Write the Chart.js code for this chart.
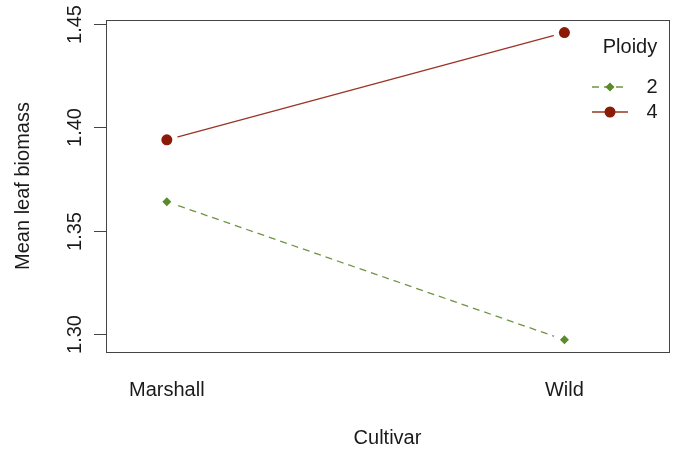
<!DOCTYPE html>
<html>
<head>
<meta charset="utf-8">
<script src="https://cdn.jsdelivr.net/npm/chart.js@4.4.1/dist/chart.umd.min.js"></script>
<style>
  html, body { margin: 0; padding: 0; background: #fff; }
  #wrap { width: 680px; height: 454px; }
</style>
</head>
<body>
<div id="wrap"><canvas id="chart" width="680" height="454"></canvas></div>
<script>
// Data
const categories = ['Marshall', 'Wild'];
const ploidyLevels = ['2', '4'];
const ploidy2 = [1.364, 1.297];
const ploidy4 = [1.394, 1.446];
const yTicks = [1.30, 1.35, 1.40, 1.45];

const FONT = '20px "Liberation Sans", Arial, sans-serif';
const GREEN = '#5b8a2b';
const GREEN_LINE = '#6f9444';
const RED = '#8b1a06';
const RED_LINE = '#9a3424';
const FRAME = '#444';

const pts = arr => arr.map((v, i) => ({ x: i + 1, y: v }));

// Axes, frame and legend drawn on top of the chart area
const rAxes = {
    id: 'rAxes',
    afterDraw(chart) {
        const { ctx, chartArea: a, scales } = chart;
        const x = scales.x, y = scales.y;
        ctx.save();
        ctx.strokeStyle = FRAME;
        ctx.lineWidth = 1;
        ctx.strokeRect(Math.round(a.left) + 0.5, Math.round(a.top) + 0.5,
            Math.round(a.right - a.left), Math.round(a.bottom - a.top));

        ctx.fillStyle = '#1a1a1a';
        ctx.font = FONT;
        ctx.textAlign = 'center';
        ctx.textBaseline = 'middle';

        // y ticks with rotated labels
        yTicks.forEach(t => {
            const py = Math.round(y.getPixelForValue(t)) + 0.5;
            ctx.beginPath();
            ctx.moveTo(a.left - 12, py);
            ctx.lineTo(a.left, py);
            ctx.stroke();
            ctx.save();
            ctx.translate(75, py);
            ctx.rotate(-Math.PI / 2);
            ctx.fillText(t.toFixed(2), 0, 0);
            ctx.restore();
        });

        // y title
        ctx.save();
        ctx.translate(23, (a.top + a.bottom) / 2);
        ctx.rotate(-Math.PI / 2);
        ctx.fillText('Mean leaf biomass', 0, 0);
        ctx.restore();

        // x category labels
        categories.forEach((c, i) => {
            ctx.fillText(c, x.getPixelForValue(i + 1), 390);
        });
        ctx.fillText('Cultivar', (a.left + a.right) / 2, 438);

        // legend
        ctx.fillText('Ploidy', 630, 47);
        const rows = [
            { label: ploidyLevels[0], y: 87, color: GREEN, line: GREEN_LINE, dash: [7, 5], shape: 'diamond' },
            { label: ploidyLevels[1], y: 112, color: RED, line: RED_LINE, dash: [], shape: 'circle' }
        ];
        rows.forEach(r => {
            ctx.strokeStyle = r.line;
            ctx.lineWidth = 1.3;
            ctx.setLineDash(r.dash);
            ctx.beginPath();
            ctx.moveTo(592, r.y);
            ctx.lineTo(628, r.y);
            ctx.stroke();
            ctx.setLineDash([]);
            ctx.fillStyle = r.color;
            ctx.beginPath();
            if (r.shape === 'circle') {
                ctx.arc(610, r.y, 5.5, 0, Math.PI * 2);
            } else {
                ctx.moveTo(610, r.y - 4.5);
                ctx.lineTo(614.5, r.y);
                ctx.lineTo(610, r.y + 4.5);
                ctx.lineTo(605.5, r.y);
                ctx.closePath();
            }
            ctx.fill();
            ctx.fillStyle = '#1a1a1a';
            ctx.fillText(r.label, 652, r.y);
        });
        ctx.restore();
    }
};

new Chart(document.getElementById('chart'), {
    type: 'line',
    data: {
        datasets: [
            // lines
            { data: pts(ploidy2), borderColor: GREEN_LINE, borderWidth: 1.3, borderDash: [7, 5],
              pointRadius: 0, order: 3 },
            { data: pts(ploidy4), borderColor: RED_LINE, borderWidth: 1.3,
              pointRadius: 0, order: 3 },
            // white gaps round the points (type = "b")
            { data: pts(ploidy2), showLine: false, pointRadius: 11, pointBackgroundColor: '#fff',
              pointBorderWidth: 0, order: 2 },
            { data: pts(ploidy4), showLine: false, pointRadius: 11, pointBackgroundColor: '#fff',
              pointBorderWidth: 0, order: 2 },
            // points
            { data: pts(ploidy2), showLine: false, pointStyle: 'rectRot', pointRadius: 4.5,
              pointBackgroundColor: GREEN, pointBorderWidth: 0, order: 1 },
            { data: pts(ploidy4), showLine: false, pointStyle: 'circle', pointRadius: 5.5,
              pointBackgroundColor: RED, pointBorderWidth: 0, order: 1 }
        ]
    },
    options: {
        responsive: false,
        animation: false,
        events: [],
        layout: { padding: { left: 106, top: 20, right: 9, bottom: 102 } },
        plugins: { legend: { display: false }, tooltip: { enabled: false } },
        scales: {
            x: { type: 'linear', display: false, min: 0.847, max: 2.263 },
            y: { type: 'linear', display: false, min: 1.2911, max: 1.4521 }
        }
    },
    plugins: [rAxes]
});
</script>
</body>
</html>
